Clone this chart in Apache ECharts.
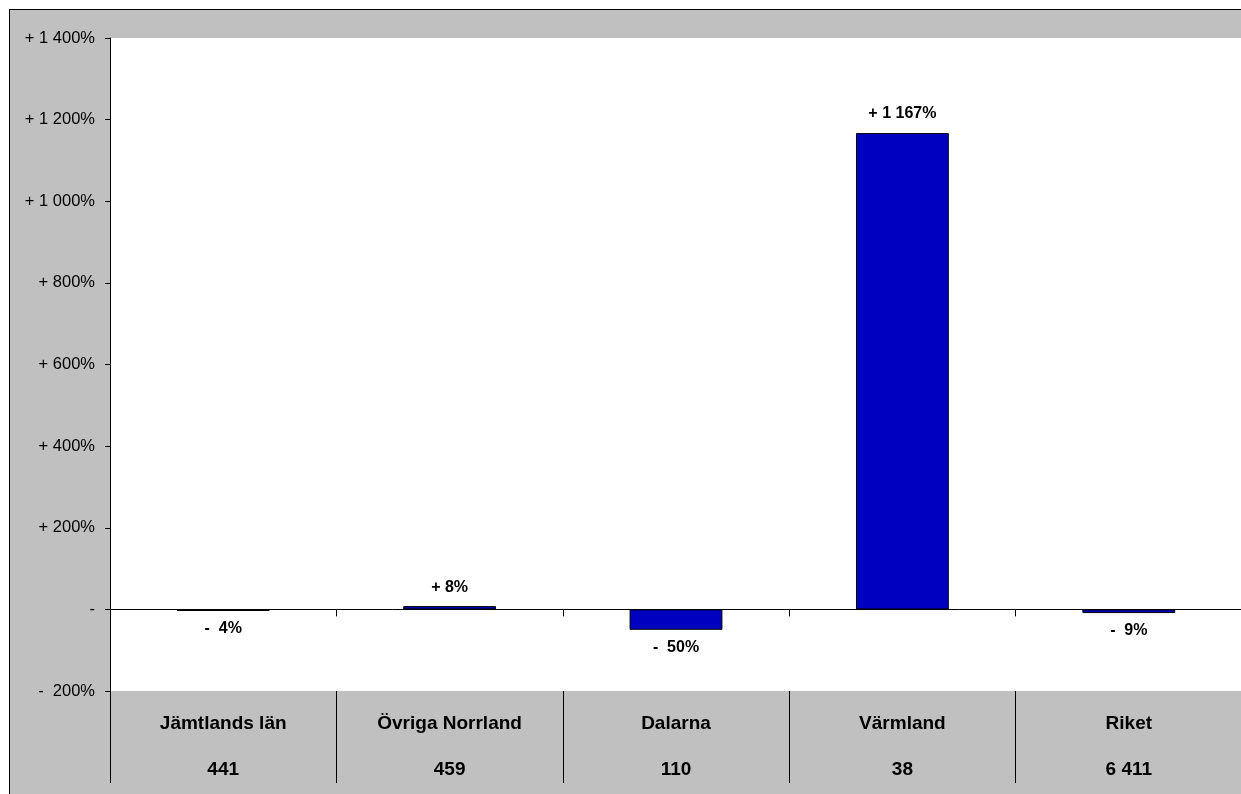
<!DOCTYPE html>
<html>
<head>
<meta charset="utf-8">
<script src="https://cdn.jsdelivr.net/npm/echarts@6/dist/echarts.min.js"></script>
<style>
  html, body { margin: 0; padding: 0; background: #fff; }
  #chart {
    position: absolute;
    left: 9px;
    top: 9px;
    width: 1232px;
    height: 785px;
    background: #c0c0c0;
    border-left: 1px solid #000;
    border-top: 1px solid #000;
  }
</style>
</head>
<body>
<div id="chart"></div>
<script>
// Data
const regions = ['Jämtlands län', 'Övriga Norrland', 'Dalarna', 'Värmland', 'Riket'];
const counts = [441, 459, 110, 38, 6411];
const changePct = [-4, 8, -50, 1167, -9];
const yTicks = { min: -200, max: 1400, interval: 200 };

const fontFamily = 'Arial, "Liberation Sans", sans-serif';

function groupThousands(n) {
  return String(Math.abs(n)).replace(/\B(?=(\d{3})+(?!\d))/g, ' ');
}

function pctLabel(v) {
  if (v === 0) return '-';
  return (v > 0 ? '+ ' : '-  ') + groupThousands(v) + '%';
}

const chart = echarts.init(document.getElementById('chart'));

chart.setOption({
  backgroundColor: 'transparent',
  animation: false,
  grid: {
    show: true,
    left: 100,
    right: 0,
    top: 28,
    bottom: 104,
    backgroundColor: '#ffffff',
    borderWidth: 0
  },
  xAxis: [
    {
      type: 'category',
      data: regions,
      position: 'bottom',
      axisLine: { onZero: true, lineStyle: { color: '#000', width: 1 } },
      axisTick: { show: true, length: 7, lineStyle: { color: '#000' } },
      axisLabel: { show: false },
      splitLine: { show: false }
    },
    {
      type: 'category',
      data: regions,
      position: 'bottom',
      axisLine: { show: false, onZero: false },
      axisTick: { show: true, length: 92, lineStyle: { color: '#000' } },
      axisLabel: {
        margin: 10,
        formatter: (name, i) => '{a|' + name + '}\n{b|' + groupThousands(counts[i]) + '}',
        rich: {
          a: { fontFamily, fontSize: 19, fontWeight: 'bold', color: '#000', lineHeight: 46 },
          b: { fontFamily, fontSize: 19, fontWeight: 'bold', color: '#000', lineHeight: 46 }
        }
      }
    }
  ],
  yAxis: {
    type: 'value',
    min: yTicks.min,
    max: yTicks.max,
    interval: yTicks.interval,
    axisLine: { show: true, lineStyle: { color: '#000', width: 1 } },
    axisTick: { show: true, length: 5, lineStyle: { color: '#000' } },
    splitLine: { show: false },
    axisLabel: {
      margin: 15,
      color: '#000',
      fontFamily,
      fontSize: 16.5,
      formatter: pctLabel
    }
  },
  series: [
    {
      type: 'bar',
      xAxisIndex: 0,
      barWidth: '41%',
      data: changePct.map(v => ({
        value: v,
        label: { position: v < 0 ? 'bottom' : 'top', distance: v < 0 ? 10 : 11 }
      })),
      itemStyle: { color: '#0000c0', borderColor: '#000', borderWidth: 1 },
      label: {
        show: true,
        color: '#000',
        fontFamily,
        fontSize: 16,
        fontWeight: 'bold',
        formatter: p => pctLabel(p.value)
      }
    }
  ]
});
</script>
</body>
</html>
